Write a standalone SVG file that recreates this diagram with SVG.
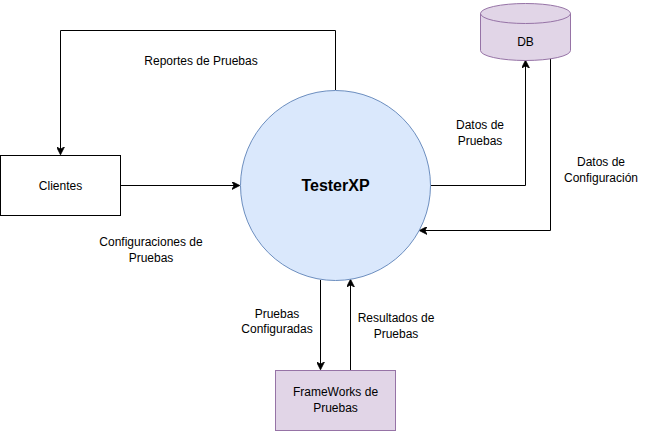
<svg xmlns="http://www.w3.org/2000/svg" width="647" height="431" viewBox="0 0 647 431">
<style>
text{font-family:"Liberation Sans",Arial,sans-serif;font-size:12px;fill:#000;text-anchor:middle}
.edge{fill:none;stroke:#000;stroke-width:1}
.b{font-weight:bold;font-size:16px}
</style>
<defs>
<marker id="ah" viewBox="0 0 10 10" refX="9" refY="5" markerWidth="8" markerHeight="8" markerUnits="userSpaceOnUse" orient="auto">
<path d="M0,0 L10,5 L0,10 L3,5 Z" fill="#000" stroke="#000" stroke-width="1"/>
</marker>
</defs>
<rect width="647" height="431" fill="#fff"/>
<g id="connectors">
<path class="edge" d="M335.5,90 V30.5 H60.5 V154" marker-end="url(#ah)"/>
<path class="edge" d="M120.5,185.5 H239" marker-end="url(#ah)"/>
<path class="edge" d="M430.5,185.5 H525.5 V61" marker-end="url(#ah)"/>
<path class="edge" d="M550.5,58 V230.5 H420" marker-end="url(#ah)"/>
<path class="edge" d="M320.5,280 V369" marker-end="url(#ah)"/>
<path class="edge" d="M350.5,370 V280" marker-end="url(#ah)"/>
<text x="201" y="65">Reportes de Pruebas</text>
<text x="151" y="246">Configuraciones de</text>
<text x="151" y="262">Pruebas</text>
<text x="277" y="318">Pruebas</text>
<text x="277" y="333">Configuradas</text>
<text x="396" y="322">Resultados de</text>
<text x="396" y="338">Pruebas</text>
<text x="480" y="129">Datos de</text>
<text x="480" y="145">Pruebas</text>
<text x="601" y="166">Datos de</text>
<text x="601" y="182">Configuración</text>
</g>
<g id="clientes">
<rect x="0.5" y="155.5" width="120" height="60" fill="#fff" stroke="#000"/>
<text x="60.5" y="190">Clientes</text>
</g>
<g id="testerxp">
<circle cx="335.5" cy="185.5" r="95" fill="#dae8fc" stroke="#6c8ebf"/>
<text class="b" x="335.5" y="191">TesterXP</text>
</g>
<g id="db">
<path d="M480.5,13.5 A45,10 0 0 1 570.5,13.5 V50.5 A45,10 0 0 1 480.5,50.5 Z" fill="#e1d5e7" stroke="#9673a6"/>
<path d="M480.5,13.5 A45,10 0 0 0 570.5,13.5" fill="none" stroke="#9673a6"/>
<text x="525.5" y="46">DB</text>
</g>
<g id="frameworks">
<rect x="275.5" y="370.5" width="120" height="60" fill="#e1d5e7" stroke="#9673a6"/>
<text x="335.5" y="396">FrameWorks de</text>
<text x="335.5" y="412">Pruebas</text>
</g>
</svg>
